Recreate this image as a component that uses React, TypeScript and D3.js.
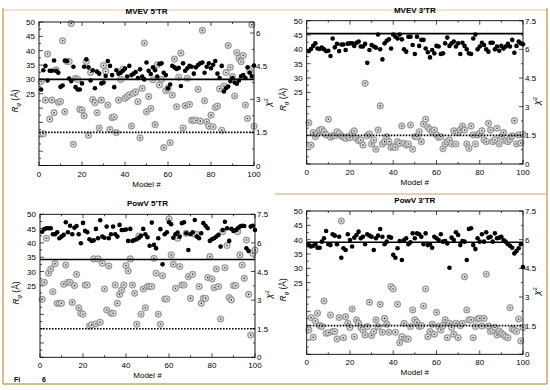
import React from 'react';
import * as d3 from 'd3';

// model numbers on the x axis
const models = d3.range(1, 101);

const panelTitles = ["MVEV 5'TR", "MVEV 3'TR", "PowV 5'TR", "PowV 3'TR"];

// Rg (Å), black dots
const mvev5Rg = [26.5, 33.2, 34.7, 29.6, 33.0, 33.0, 36.6, 33.0, 32.3, 27.4, 27.9, 36.6, 36.4, 30.3, 29.4, 34.4, 27.3, 26.5, 26.5, 28.6,
  34.4, 37.0, 34.2, 29.6, 33.2, 26.9, 32.7, 32.0, 28.6, 28.9, 31.2, 36.4, 34.7, 31.5, 27.3, 33.2, 32.0, 32.3, 33.0, 33.8,
  31.0, 34.7, 31.5, 32.0, 32.6, 30.5, 33.5, 31.0, 30.0, 35.9, 33.0, 31.9, 34.2, 33.2, 31.0, 35.4, 35.6, 32.3, 31.5, 26.9,
  28.2, 34.7, 34.2, 33.6, 34.0, 27.7, 35.6, 33.0, 33.9, 34.7, 34.4, 32.0, 34.2, 35.0, 35.6, 35.9, 32.3, 34.4, 35.6, 33.9,
  35.1, 36.4, 32.0, 30.5, 34.7, 25.8, 26.9, 27.5, 29.4, 30.5, 28.9, 28.5, 29.6, 31.1, 31.5, 30.5, 34.2, 32.3, 31.1, 34.8];
const mvev3Rg = [39.4, 40.1, 41.2, 42.1, 40.3, 40.1, 40.6, 40.0, 39.4, 39.5, 37.7, 43.8, 40.7, 41.9, 39.4, 41.7, 41.7, 39.8, 42.0, 42.1,
  42.1, 41.2, 42.3, 42.7, 41.0, 41.0, 41.9, 35.3, 39.8, 41.5, 41.0, 40.6, 45.2, 40.0, 36.5, 42.1, 43.0, 43.5, 40.3, 45.2,
  44.4, 43.8, 45.2, 43.5, 40.0, 39.2, 44.4, 44.4, 41.5, 38.4, 44.4, 41.2, 43.3, 43.3, 40.3, 39.0, 37.2, 39.8, 38.6, 41.2,
  41.0, 38.4, 38.6, 42.1, 44.1, 41.2, 42.1, 42.7, 41.0, 42.1, 38.4, 42.3, 41.2, 40.0, 38.6, 38.4, 43.8, 45.2, 40.0, 41.0,
  42.3, 41.5, 40.0, 39.2, 42.3, 42.3, 40.0, 41.0, 39.5, 41.2, 40.3, 41.0, 41.9, 41.0, 43.3, 38.8, 41.2, 42.7, 42.1, 41.8];
const powv5Rg = [43.9, 44.8, 45.1, 45.1, 45.1, 43.0, 43.0, 43.7, 41.6, 42.2, 42.8, 47.2, 43.7, 46.0, 43.0, 45.3, 45.9, 43.0, 39.9, 47.0,
  44.2, 43.7, 41.3, 40.7, 40.9, 44.9, 41.6, 47.9, 42.2, 41.8, 45.7, 41.6, 43.0, 45.7, 43.0, 42.2, 46.3, 44.5, 44.5, 44.7,
  40.7, 44.9, 40.7, 41.0, 41.3, 41.8, 42.5, 44.9, 43.0, 42.0, 39.0, 47.1, 39.3, 38.1, 41.6, 44.8, 32.5, 43.0, 43.7, 47.2,
  46.5, 41.8, 43.0, 43.6, 42.2, 46.9, 47.2, 43.4, 37.5, 43.0, 43.7, 48.0, 42.2, 41.6, 43.4, 46.9, 46.0, 45.1, 40.7, 41.3,
  41.6, 42.2, 42.8, 38.7, 44.5, 47.4, 45.1, 40.7, 44.9, 44.2, 44.5, 45.1, 45.7, 46.0, 45.9, 38.1, 37.2, 45.7, 46.0, 44.5];
const powv3Rg = [38.1, 37.6, 37.9, 38.4, 37.2, 37.2, 39.3, 40.5, 43.0, 38.4, 38.1, 41.9, 41.4, 38.4, 41.0, 33.7, 37.0, 36.4, 41.9, 39.9,
  37.6, 40.7, 41.6, 42.8, 40.5, 41.0, 38.4, 41.9, 41.4, 41.0, 36.4, 40.5, 41.4, 43.7, 41.0, 38.4, 39.3, 41.0, 40.7, 34.7,
  33.7, 37.0, 39.5, 32.9, 39.9, 40.5, 38.4, 39.1, 42.2, 40.5, 42.2, 41.9, 41.0, 38.4, 42.2, 38.1, 38.4, 37.2, 41.0, 40.5,
  39.9, 41.9, 39.3, 39.5, 38.7, 30.2, 40.7, 39.9, 42.6, 41.6, 38.1, 39.5, 39.3, 32.9, 43.7, 44.0, 38.1, 36.7, 40.5, 39.3,
  41.9, 39.3, 42.6, 40.7, 41.0, 39.3, 42.2, 40.5, 40.7, 41.0, 39.9, 39.3, 38.4, 37.9, 37.2, 35.2, 36.0, 37.0, 38.4, 30.4];

// chi^2, grey circles
const mvev5Chi = [3.80, 1.44, 2.96, 5.05, 2.10, 2.96, 2.39, 4.33, 2.86, 2.90, 5.65, 2.43, 4.71, 4.71, 6.43, 0.96, 3.95, 3.90, 2.54, 2.51,
  2.25, 4.71, 1.37, 4.21, 2.99, 2.84, 2.39, 1.70, 2.96, 4.53, 4.26, 2.74, 1.63, 2.17, 2.20, 1.49, 2.96, 3.90, 4.36, 3.04,
  3.12, 3.20, 1.79, 3.27, 3.34, 2.89, 1.25, 3.50, 5.55, 2.43, 3.12, 2.58, 3.88, 1.85, 4.56, 3.65, 3.90, 0.81, 3.39, 3.50,
  1.03, 3.19, 4.82, 2.66, 4.00, 5.09, 1.70, 2.71, 3.95, 2.77, 2.05, 2.05, 2.05, 3.45, 2.01, 6.12, 2.93, 1.98, 1.78, 2.28,
  1.75, 2.63, 2.69, 3.47, 1.60, 3.60, 4.21, 5.43, 4.45, 4.03, 3.15, 5.12, 4.86, 4.70, 4.98, 2.74, 2.13, 4.29, 6.38, 1.78];
const mvev3Chi = [2.16, 0.99, 1.64, 1.43, 1.60, 1.78, 1.81, 1.69, 1.52, 2.34, 1.40, 1.48, 1.48, 1.69, 1.60, 1.47, 1.40, 1.34, 1.43, 1.38,
  1.60, 1.74, 1.34, 1.22, 1.26, 0.99, 4.22, 1.48, 1.57, 1.05, 1.26, 0.77, 1.78, 3.04, 1.05, 1.17, 1.43, 1.17, 0.87, 0.91,
  0.87, 1.17, 1.08, 1.99, 1.08, 0.99, 1.05, 2.04, 0.77, 1.43, 1.43, 1.69, 1.17, 2.09, 2.34, 1.92, 1.81, 1.69, 1.78, 1.52,
  1.40, 1.43, 0.80, 1.05, 1.17, 1.26, 1.05, 1.74, 1.05, 1.64, 1.78, 1.99, 1.78, 1.05, 0.82, 1.99, 1.52, 1.05, 1.52, 1.60,
  1.74, 1.26, 1.17, 2.13, 1.78, 1.17, 1.26, 1.87, 1.05, 1.43, 1.64, 1.22, 1.17, 1.30, 1.47, 2.27, 1.05, 1.52, 1.10, 1.55];
const powv5Chi = [3.04, 3.93, 6.24, 4.41, 4.63, 3.44, 4.90, 2.83, 2.83, 2.83, 3.83, 4.84, 3.93, 3.93, 2.88, 3.76, 4.35, 2.60, 2.31, 2.26,
  3.79, 3.79, 1.64, 1.70, 5.16, 1.75, 5.16, 1.84, 4.93, 3.58, 2.48, 4.79, 2.31, 2.31, 3.79, 2.83, 3.30, 3.53, 3.79, 4.81,
  4.53, 5.16, 3.79, 3.36, 1.73, 6.36, 2.26, 3.58, 2.60, 3.71, 3.71, 3.71, 5.19, 4.41, 2.26, 1.73, 4.28, 3.06, 3.06, 7.26,
  5.37, 4.88, 3.62, 6.24, 4.76, 3.79, 3.79, 6.50, 4.23, 3.09, 4.35, 6.45, 6.45, 3.71, 2.83, 3.09, 3.09, 4.18, 5.28, 4.11,
  3.65, 4.63, 3.71, 2.01, 6.59, 4.70, 5.86, 3.13, 3.01, 3.76, 3.76, 6.59, 5.37, 4.84, 4.14, 6.15, 3.30, 1.17, 5.45, 5.63];
const powv3Chi = [1.27, 1.92, 0.89, 1.74, 2.15, 1.50, 1.45, 2.79, 1.10, 1.13, 2.06, 1.19, 1.19, 0.80, 1.92, 6.98, 0.87, 1.97, 1.62, 1.40,
  2.37, 0.92, 1.80, 1.62, 1.40, 1.27, 1.01, 1.45, 2.72, 0.98, 1.19, 1.80, 1.45, 2.62, 1.15, 1.88, 1.57, 1.15, 3.54, 3.42,
  1.15, 2.62, 0.61, 0.92, 1.62, 0.80, 0.80, 1.45, 2.32, 1.80, 1.67, 1.45, 1.50, 2.53, 3.42, 0.92, 1.19, 1.57, 1.05, 2.20,
  1.45, 1.27, 1.50, 1.80, 0.87, 1.62, 1.40, 1.05, 1.62, 0.87, 1.50, 1.62, 4.06, 2.32, 1.80, 1.80, 0.87, 1.45, 1.85, 1.88,
  1.48, 1.88, 4.19, 1.48, 1.19, 1.27, 1.40, 1.01, 1.22, 1.10, 1.01, 0.92, 0.87, 2.44, 1.33, 1.27, 1.19, 1.85, 0.70, 1.40];

// average Rg (solid line) and chi^2 reference (dotted line)
const rgAverage = [30, 45.5, 34.2, 39.1];
const chiReference = 1.5;
const chiMax = [6.5, 7.5, 7.5, 7.5];

const rgTickLabels = [25, 30, 35, 40, 45, 50];
const chiTickLabels = [0, 1.5, 3, 4.5, 6, 7.5];
const xTickLabels = [0, 20, 40, 60, 80, 100];

const rgSeries = [mvev5Rg, mvev3Rg, powv5Rg, powv3Rg];
const chiSeries = [mvev5Chi, mvev3Chi, powv5Chi, powv3Chi];

// plot boxes, in page pixels
const boxes = [
  { x0: 39, x1: 254, y0: 22, y1: 165.5 },
  { x0: 306.7, x1: 523, y0: 20.7, y1: 164 },
  { x0: 40, x1: 255, y0: 214.3, y1: 357.3 },
  { x0: 306.7, x1: 523, y0: 211, y1: 354.3 },
];

const font = 'Liberation Sans, Arial, Helvetica, sans-serif';

const Panel: React.FC<{ i: number }> = ({ i }) => {
  const b = boxes[i];
  const x = d3.scaleLinear().domain([0, 100]).range([b.x0, b.x1]);
  const yRg = d3.scaleLinear().domain([0, 50]).range([b.y1, b.y0]);
  const yChi = d3.scaleLinear().domain([0, chiMax[i]]).range([b.y1, b.y0]);
  const cx = (b.x0 + b.x1) / 2;

  const rgMinor = d3.range(0, 50.01, 2.5);
  const chiMinor = d3.range(0, chiMax[i] + 0.01, 0.75);
  const xMinor = d3.range(0, 100.01, 10);

  return (
    <g fontFamily={font}>
      <text x={cx} y={b.y0 - 8} textAnchor="middle" fontSize={8} fontWeight="bold">{panelTitles[i]}</text>

      {/* ticks pointing inward */}
      {rgMinor.map((v) => {
        const major = v % 5 === 0;
        return <line key={'l' + v} x1={b.x0} x2={b.x0 + (major ? 4 : 2)} y1={yRg(v)} y2={yRg(v)} stroke="#000" strokeWidth={0.7} />;
      })}
      {chiMinor.map((v) => {
        const major = Math.abs(v / 1.5 - Math.round(v / 1.5)) < 1e-6;
        return <line key={'r' + v} x1={b.x1} x2={b.x1 - (major ? 4 : 2)} y1={yChi(v)} y2={yChi(v)} stroke="#000" strokeWidth={0.7} />;
      })}
      {xMinor.map((v) => {
        const len = v % 20 === 0 ? 4 : 2;
        return (
          <g key={'x' + v}>
            <line x1={x(v)} x2={x(v)} y1={b.y1} y2={b.y1 - len} stroke="#000" strokeWidth={0.7} />
            <line x1={x(v)} x2={x(v)} y1={b.y0} y2={b.y0 + len} stroke="#000" strokeWidth={0.7} />
          </g>
        );
      })}

      {/* tick labels */}
      {rgTickLabels.map((v) => (
        <text key={'lt' + v} x={b.x0 - 4} y={yRg(v) + 3} textAnchor="end" fontSize={8}>{v}</text>
      ))}
      {chiTickLabels.filter((v) => v <= chiMax[i]).map((v) => (
        <text key={'rt' + v} x={b.x1 + 2} y={yChi(v) + 3} fontSize={8}>{v}</text>
      ))}
      {xTickLabels.map((v) => (
        <text key={'bt' + v} x={x(v)} y={b.y1 + 11} textAnchor="middle" fontSize={8}>{v}</text>
      ))}

      <text x={cx} y={b.y1 + 21} textAnchor="middle" fontSize={8}>Model #</text>
      <text transform={`translate(${b.x0 - 21},${yRg(22.5)}) rotate(-90)`} textAnchor="middle" fontSize={8.5}>
        <tspan fontStyle="italic">R</tspan>
        <tspan fontStyle="italic" fontSize={6} dy={2}>g</tspan>
        <tspan dy={-2}> (Å)</tspan>
      </text>
      <text transform={`translate(${b.x1 + 17},${yRg(22)}) rotate(-90)`} textAnchor="middle" fontSize={9}>
        <tspan fontStyle="italic">χ</tspan>
        <tspan fontSize={6} dy={-3}>2</tspan>
      </text>

      {/* chi^2 markers */}
      {chiSeries[i].map((v, k) => (
        <g key={'c' + k}>
          <circle cx={x(models[k])} cy={yChi(v)} r={3.3} fill="#a8a8a8" stroke="#777" strokeWidth={0.4} />
          <circle cx={x(models[k])} cy={yChi(v)} r={2.1} fill="#e4e4e4" />
          <circle cx={x(models[k])} cy={yChi(v)} r={0.8} fill="#222" />
        </g>
      ))}
      {/* Rg markers */}
      {rgSeries[i].map((v, k) => (
        <circle key={'g' + k} cx={x(models[k])} cy={yRg(v)} r={2.3} fill="#000" />
      ))}

      <line x1={b.x0} x2={b.x1} y1={yRg(rgAverage[i])} y2={yRg(rgAverage[i])} stroke="#000" strokeWidth={1.6} />
      <line x1={b.x0} x2={b.x1} y1={yChi(chiReference)} y2={yChi(chiReference)} stroke="#000" strokeWidth={1.6} strokeDasharray="1.6,1.4" />

      <rect x={b.x0} y={b.y0} width={b.x1 - b.x0} height={b.y1 - b.y0} fill="none" stroke="#000" strokeWidth={0.9} />
    </g>
  );
};

const App: React.FC = () => {
  return (
    <svg width={550} height={390} style={{ position: 'absolute', left: 0, top: 0, background: '#fff' }}>
      {/* scanned page border */}
      <line x1={3} x2={547} y1={10} y2={10} stroke="#f0b090" strokeWidth={0.8} />
      <line x1={3} x2={3} y1={8} y2={384} stroke="#c9a66b" strokeWidth={1.5} />
      <line x1={3} x2={547} y1={384} y2={384} stroke="#c9a66b" strokeWidth={1.5} />
      <line x1={547} x2={547} y1={8} y2={384} stroke="#c9a66b" strokeWidth={1.5} />
      <line x1={275} x2={547} y1={194} y2={194} stroke="#c9a66b" strokeWidth={1.2} />
      {boxes.map((_, i) => <Panel key={i} i={i} />)}
      <text x={14} y={382} fontSize={7} fontWeight="bold" fontFamily={font}>Fi</text>
      <text x={42} y={382} fontSize={7} fontWeight="bold" fontFamily={font}>6</text>
    </svg>
  );
};

export default App;
